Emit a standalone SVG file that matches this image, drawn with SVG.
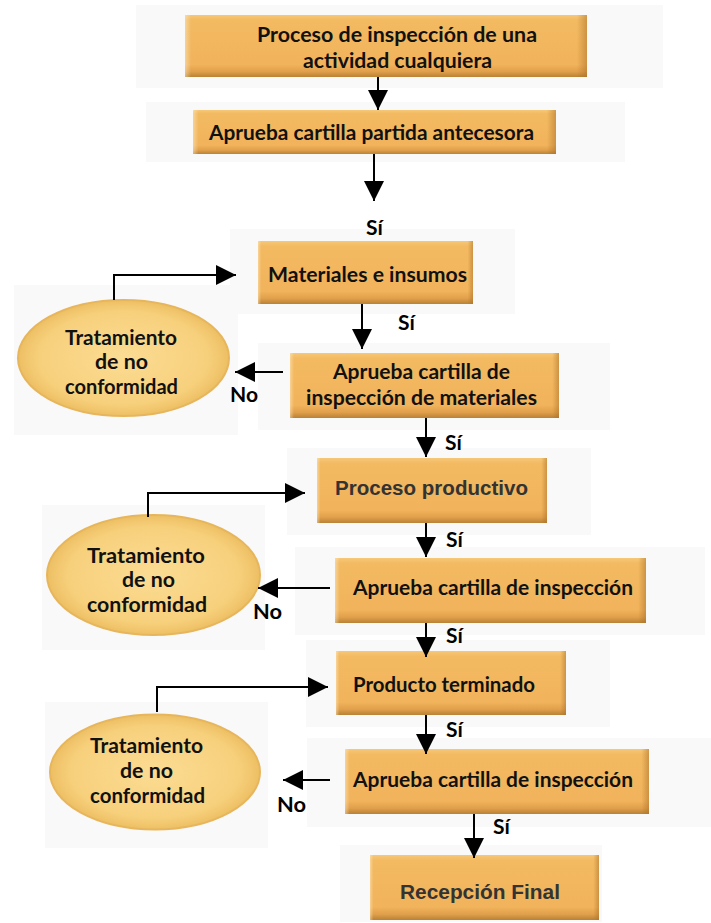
<svg xmlns="http://www.w3.org/2000/svg" width="711" height="923" viewBox="0 0 711 923">
  <defs>
    <style>
      .panel { fill: #f9f9f9; }
      .box { fill: url(#boxV); }
      .boxEdge { fill: url(#boxH); }
      .oval { fill: url(#ovalFill); stroke: #e7b65c; stroke-width: 2; }
      .t { font-family: Lato, "Liberation Sans", sans-serif; font-weight: 700; font-size: 20px; fill: #111111; }
      .a { font-family: "Liberation Sans", Arial, sans-serif; font-weight: 700; font-size: 20px; fill: #333333; }
      .lbl { font-family: Lato, "Liberation Sans", sans-serif; font-weight: 700; font-size: 21px; fill: #000000; }
      .wire { fill: none; stroke: #000000; stroke-width: 2; marker-end: url(#head); }
    </style>
    <!-- bevelled orange box: light top, darker bottom lip -->
    <linearGradient id="boxV" x1="0" y1="0" x2="0" y2="1">
      <stop offset="0" stop-color="#f6c879"/>
      <stop offset="0.08" stop-color="#f3ba62"/>
      <stop offset="0.8" stop-color="#f1b35b"/>
      <stop offset="0.91" stop-color="#e1a04c"/>
      <stop offset="1" stop-color="#b98234"/>
    </linearGradient>
    <linearGradient id="boxH" x1="0" y1="0" x2="1" y2="0">
      <stop offset="0" stop-color="#fff4d8" stop-opacity="0.45"/>
      <stop offset="0.015" stop-color="#fff4d8" stop-opacity="0"/>
      <stop offset="0.975" stop-color="#a86d25" stop-opacity="0"/>
      <stop offset="1" stop-color="#a86d25" stop-opacity="0.5"/>
    </linearGradient>
    <radialGradient id="ovalFill" cx="0.5" cy="0.5" r="0.5">
      <stop offset="0" stop-color="#fbdc93"/>
      <stop offset="0.8" stop-color="#f7d07c"/>
      <stop offset="1" stop-color="#edbf63"/>
    </radialGradient>
    <marker id="head" markerUnits="userSpaceOnUse" markerWidth="20" markerHeight="20" refX="20" refY="10" orient="auto">
      <path d="M0,0 L20,10 L0,20 z" fill="#000000"/>
    </marker>
  </defs>

  <rect width="711" height="923" fill="#ffffff"/>

  <!-- light backing panels -->
  <g id="panels">
    <rect class="panel" x="136" y="5" width="527" height="83"/>
    <rect class="panel" x="146" y="102" width="479" height="60"/>
    <rect class="panel" x="230" y="229" width="285" height="85"/>
    <rect class="panel" x="14" y="285" width="224" height="150"/>
    <rect class="panel" x="258" y="343" width="352" height="87"/>
    <rect class="panel" x="287" y="448" width="304" height="87"/>
    <rect class="panel" x="42" y="505" width="223" height="145"/>
    <rect class="panel" x="295" y="547" width="410" height="88"/>
    <rect class="panel" x="306" y="640" width="304" height="87"/>
    <rect class="panel" x="45" y="702" width="223" height="146"/>
    <rect class="panel" x="307" y="738" width="404" height="89"/>
    <rect class="panel" x="340" y="845" width="262" height="77"/>
  </g>

  <g id="inicio">
    <rect class="box" x="185" y="15" width="402" height="62"/>
    <rect class="boxEdge" x="185" y="15" width="402" height="62"/>
    <text class="t" x="257" y="42" textLength="280" lengthAdjust="spacingAndGlyphs">Proceso de inspección de una</text>
    <text class="t" x="303" y="68" textLength="189" lengthAdjust="spacingAndGlyphs">actividad cualquiera</text>
  </g>

  <g id="partida-antecesora">
    <rect class="box" x="193" y="110" width="363" height="44"/>
    <rect class="boxEdge" x="193" y="110" width="363" height="44"/>
    <text class="t" x="209" y="140" textLength="325" lengthAdjust="spacingAndGlyphs">Aprueba cartilla partida antecesora</text>
  </g>

  <g id="materiales">
    <rect class="box" x="258" y="241" width="215" height="63"/>
    <rect class="boxEdge" x="258" y="241" width="215" height="63"/>
    <text class="t" x="268" y="282" textLength="199" lengthAdjust="spacingAndGlyphs">Materiales e insumos</text>
  </g>

  <g id="cartilla-materiales">
    <rect class="box" x="290" y="353" width="269" height="65"/>
    <rect class="boxEdge" x="290" y="353" width="269" height="65"/>
    <text class="t" x="333" y="379" textLength="177" lengthAdjust="spacingAndGlyphs">Aprueba cartilla de</text>
    <text class="t" x="306" y="405" textLength="231" lengthAdjust="spacingAndGlyphs">inspección de materiales</text>
  </g>

  <g id="no-conformidad-1">
    <ellipse class="oval" cx="123.5" cy="358" rx="105.5" ry="58"/>
    <text class="t" x="65" y="345" textLength="112" lengthAdjust="spacingAndGlyphs">Tratamiento</text>
    <text class="t" x="95" y="369" textLength="53" lengthAdjust="spacingAndGlyphs">de no</text>
    <text class="t" x="65" y="394" textLength="113" lengthAdjust="spacingAndGlyphs">conformidad</text>
  </g>

  <g id="proceso-productivo">
    <rect class="box" x="317" y="458" width="230" height="65"/>
    <rect class="boxEdge" x="317" y="458" width="230" height="65"/>
    <text class="a" x="335" y="495" textLength="193" lengthAdjust="spacingAndGlyphs">Proceso productivo</text>
  </g>

  <g id="cartilla-proceso">
    <rect class="box" x="335" y="558" width="311" height="65"/>
    <rect class="boxEdge" x="335" y="558" width="311" height="65"/>
    <text class="t" x="353" y="595" textLength="280" lengthAdjust="spacingAndGlyphs">Aprueba cartilla de inspección</text>
  </g>

  <g id="no-conformidad-2">
    <ellipse class="oval" cx="153.5" cy="575" rx="106.5" ry="60"/>
    <text class="t" x="87" y="563" textLength="118" lengthAdjust="spacingAndGlyphs">Tratamiento</text>
    <text class="t" x="122" y="587" textLength="53" lengthAdjust="spacingAndGlyphs">de no</text>
    <text class="t" x="87" y="612" textLength="120" lengthAdjust="spacingAndGlyphs">conformidad</text>
  </g>

  <g id="producto-terminado">
    <rect class="box" x="336" y="651" width="230" height="64"/>
    <rect class="boxEdge" x="336" y="651" width="230" height="64"/>
    <text class="t" x="353" y="692" textLength="182" lengthAdjust="spacingAndGlyphs">Producto terminado</text>
  </g>

  <g id="cartilla-producto">
    <rect class="box" x="345" y="749" width="304" height="65"/>
    <rect class="boxEdge" x="345" y="749" width="304" height="65"/>
    <text class="t" x="353" y="787" textLength="280" lengthAdjust="spacingAndGlyphs">Aprueba cartilla de inspección</text>
  </g>

  <g id="no-conformidad-3">
    <ellipse class="oval" cx="155" cy="772" rx="105" ry="57.5"/>
    <text class="t" x="90" y="753" textLength="113" lengthAdjust="spacingAndGlyphs">Tratamiento</text>
    <text class="t" x="120" y="778" textLength="53" lengthAdjust="spacingAndGlyphs">de no</text>
    <text class="t" x="90" y="803" textLength="115" lengthAdjust="spacingAndGlyphs">conformidad</text>
  </g>

  <g id="recepcion-final">
    <rect class="box" x="370" y="855" width="229" height="65"/>
    <rect class="boxEdge" x="370" y="855" width="229" height="65"/>
    <text class="a" x="400" y="899" textLength="160" lengthAdjust="spacingAndGlyphs">Recepción Final</text>
  </g>

  <!-- connectors and their Sí / No labels -->
  <g id="connectors">
    <path class="wire" d="M378,77 V110"/>
    <path class="wire" d="M374,154 V201"/>
    <path class="wire" d="M362,304 V349"/>
    <path class="wire" d="M426,418 V457"/>
    <path class="wire" d="M426,523 V557"/>
    <path class="wire" d="M426,623 V657"/>
    <path class="wire" d="M426,715 V754"/>
    <path class="wire" d="M474,814 V858"/>

    <path class="wire" d="M114,300 V275 H236"/>
    <path class="wire" d="M148,517 V493 H305"/>
    <path class="wire" d="M157,712 V687 H328"/>

    <path class="wire" d="M283,372 H235"/>
    <path class="wire" d="M330,588 H258"/>
    <path class="wire" d="M330,780 H283"/>

    <text class="lbl" x="366" y="235">Sí</text>
    <text class="lbl" x="398" y="330">Sí</text>
    <text class="lbl" x="445" y="450">Sí</text>
    <text class="lbl" x="446" y="547">Sí</text>
    <text class="lbl" x="446" y="643">Sí</text>
    <text class="lbl" x="446" y="737">Sí</text>
    <text class="lbl" x="493" y="834">Sí</text>

    <text class="lbl" x="230" y="402" textLength="28" lengthAdjust="spacingAndGlyphs">No</text>
    <text class="lbl" x="253" y="619" textLength="29" lengthAdjust="spacingAndGlyphs">No</text>
    <text class="lbl" x="277" y="812" textLength="29" lengthAdjust="spacingAndGlyphs">No</text>
  </g>
</svg>
